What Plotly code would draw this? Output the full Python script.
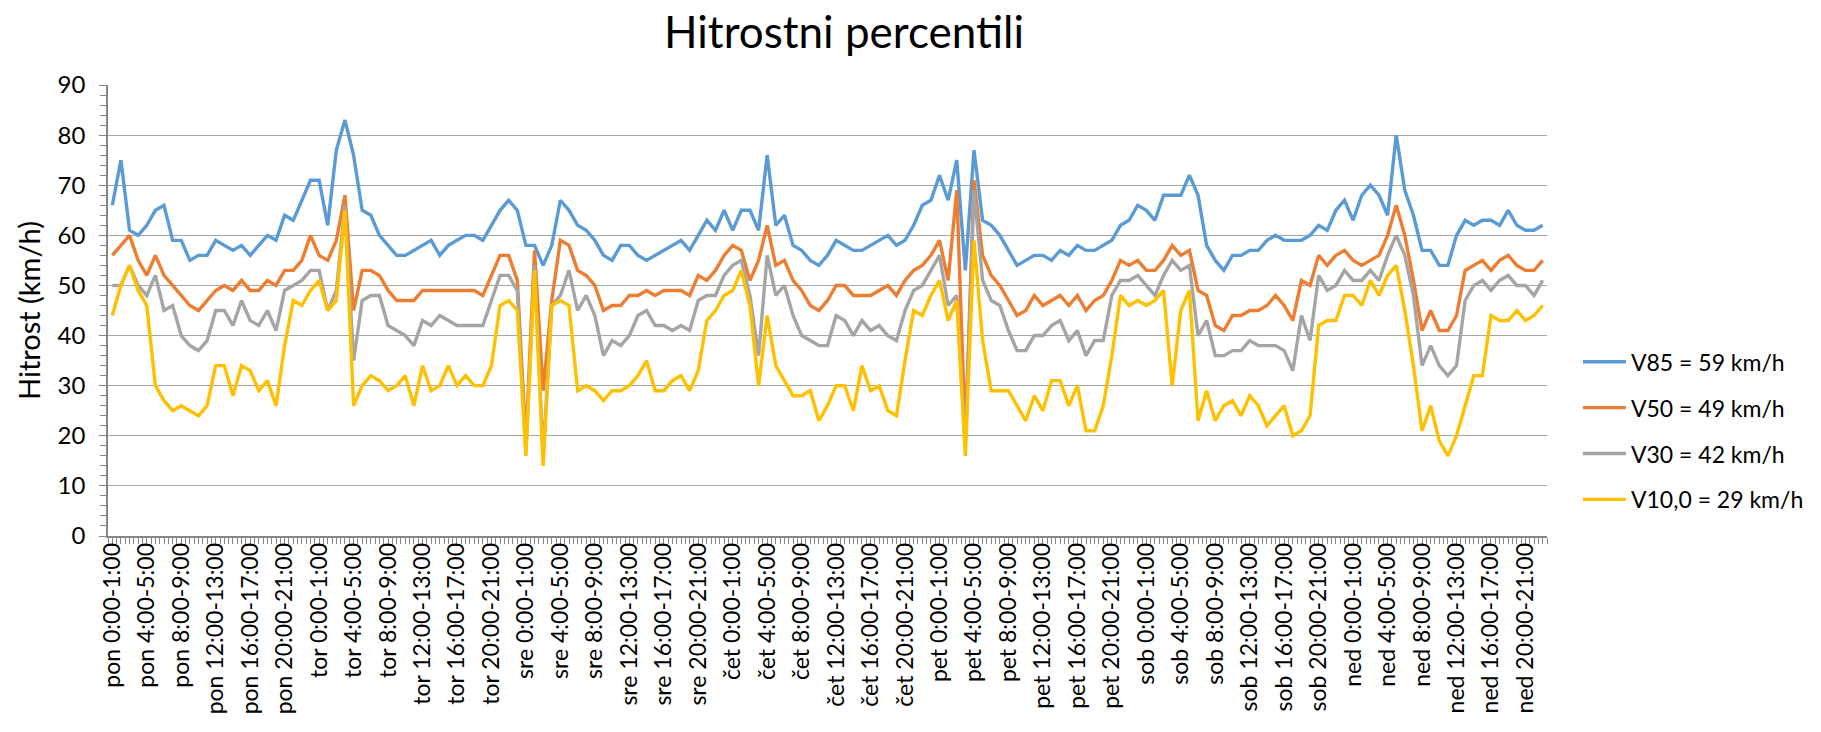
import plotly.graph_objects as go

TITLE = "Hitrostni percentili"
Y_TITLE = "Hitrost (km/h)"
DAYS = ["pon", "tor", "sre", "čet", "pet", "sob", "ned"]
HOUR_SLOTS = [f"{h}:00-{h + 1}:00" for h in range(24)]
CATEGORIES = [f"{d} {s}" for d in DAYS for s in HOUR_SLOTS][:167]
LABEL_STEP = 4

V85 = [66, 75, 61, 60, 62, 65, 66, 59, 59, 55, 56, 56, 59, 58, 57, 58, 56, 58, 60, 59, 64, 63, 67, 71, 71, 62, 77, 83,
       76, 65, 64, 60, 58, 56, 56, 57, 58, 59, 56, 58, 59, 60, 60, 59, 62, 65, 67, 65, 58, 58, 54, 58, 67, 65, 62, 61,
       59, 56, 55, 58, 58, 56, 55, 56, 57, 58, 59, 57, 60, 63, 61, 65, 61, 65, 65, 61, 76, 62, 64, 58, 57, 55, 54, 56,
       59, 58, 57, 57, 58, 59, 60, 58, 59, 62, 66, 67, 72, 67, 75, 53, 77, 63, 62, 60, 57, 54, 55, 56, 56, 55, 57, 56,
       58, 57, 57, 58, 59, 62, 63, 66, 65, 63, 68, 68, 68, 72, 68, 58, 55, 53, 56, 56, 57, 57, 59, 60, 59, 59, 59, 60,
       62, 61, 65, 67, 63, 68, 70, 68, 64, 80, 69, 64, 57, 57, 54, 54, 60, 63, 62, 63, 63, 62, 65, 62, 61, 61, 62]

V50 = [56, 58, 60, 55, 52, 56, 52, 50, 48, 46, 45, 47, 49, 50, 49, 51, 49, 49, 51, 50, 53, 53, 55, 60, 56, 55, 59, 68,
       45, 53, 53, 52, 49, 47, 47, 47, 49, 49, 49, 49, 49, 49, 49, 48, 52, 56, 56, 51, 19, 57, 29, 47, 59, 58, 53, 52,
       50, 45, 46, 46, 48, 48, 49, 48, 49, 49, 49, 48, 52, 51, 53, 56, 58, 57, 51, 55, 62, 54, 55, 51, 49, 46, 45, 47,
       50, 50, 48, 48, 48, 49, 50, 48, 51, 53, 54, 56, 59, 51, 69, 20, 71, 56, 52, 50, 47, 44, 45, 48, 46, 47, 48, 46,
       48, 45, 47, 48, 51, 55, 54, 55, 53, 53, 55, 58, 56, 57, 49, 48, 42, 41, 44, 44, 45, 45, 46, 48, 46, 43, 51, 50,
       56, 54, 56, 57, 55, 54, 55, 56, 60, 66, 60, 51, 41, 45, 41, 41, 44, 53, 54, 55, 53, 55, 56, 54, 53, 53, 55]

V30 = [50, 50, 54, 50, 48, 52, 45, 46, 40, 38, 37, 39, 45, 45, 42, 47, 43, 42, 45, 41, 49, 50, 51, 53, 53, 45, 49, 66,
       35, 47, 48, 48, 42, 41, 40, 38, 43, 42, 44, 43, 42, 42, 42, 42, 47, 52, 52, 49, 17, 54, 16, 46, 48, 53, 45, 48,
       44, 36, 39, 38, 40, 44, 45, 42, 42, 41, 42, 41, 47, 48, 48, 52, 54, 55, 48, 36, 56, 48, 50, 44, 40, 39, 38, 38,
       44, 43, 40, 43, 41, 42, 40, 39, 45, 49, 50, 53, 56, 46, 48, 18, 69, 51, 47, 46, 41, 37, 37, 40, 40, 42, 43, 39,
       41, 36, 39, 39, 48, 51, 51, 52, 50, 48, 52, 55, 53, 54, 40, 43, 36, 36, 37, 37, 39, 38, 38, 38, 37, 33, 44, 39,
       52, 49, 50, 53, 51, 51, 53, 51, 56, 60, 56, 48, 34, 38, 34, 32, 34, 47, 50, 51, 49, 51, 52, 50, 50, 48, 51]

V10 = [44, 50, 54, 49, 46, 30, 27, 25, 26, 25, 24, 26, 34, 34, 28, 34, 33, 29, 31, 26, 38, 47, 46, 49, 51, 45, 47, 65,
       26, 30, 32, 31, 29, 30, 32, 26, 34, 29, 30, 34, 30, 32, 30, 30, 34, 46, 47, 45, 16, 53, 14, 46, 47, 46, 29, 30,
       29, 27, 29, 29, 30, 32, 35, 29, 29, 31, 32, 29, 33, 43, 45, 48, 49, 53, 46, 30, 44, 34, 31, 28, 28, 29, 23, 26,
       30, 30, 25, 34, 29, 30, 25, 24, 35, 45, 44, 48, 51, 43, 47, 16, 59, 39, 29, 29, 29, 26, 23, 28, 25, 31, 31, 26,
       30, 21, 21, 26, 36, 48, 46, 47, 46, 47, 49, 30, 45, 49, 23, 29, 23, 26, 27, 24, 28, 26, 22, 24, 26, 20, 21, 24,
       42, 43, 43, 48, 48, 46, 51, 48, 52, 54, 45, 34, 21, 26, 19, 16, 20, 26, 32, 32, 44, 43, 43, 45, 43, 44, 46]

SERIES = [V85, V50, V30, V10]
SERIES_NAMES = ["V85 = 59 km/h", "V50 = 49 km/h", "V30 = 42 km/h", "V10,0 = 29 km/h"]
COLORS = ["#5B9BD5", "#ED7D31", "#A5A5A5", "#FFC000"]

Y_MIN, Y_MAX, Y_STEP = 0, 90, 10

FONT = "Lato"
positions = list(range(len(CATEGORIES)))

fig = go.Figure()
for name, values, color in zip(SERIES_NAMES, SERIES, COLORS):
    fig.add_trace(go.Scatter(
        x=positions,
        y=values,
        name=name,
        legendgroup=name,
        mode="lines",
        line=dict(color=color, width=3.4),
        customdata=CATEGORIES,
        hovertemplate="%{customdata}: %{y} km/h<extra>" + name + "</extra>",
    ))

tick_vals = positions[::LABEL_STEP]
tick_text = CATEGORIES[::LABEL_STEP]

fig.update_layout(
    width=1821,
    height=732,
    paper_bgcolor="white",
    plot_bgcolor="white",
    margin=dict(l=108, r=272, t=85, b=196),
    font=dict(family=FONT, color="#000000"),
    title=dict(
        text=TITLE,
        font=dict(family=FONT, size=44, color="#000000"),
        x=0.5115, xref="paper", xanchor="center",
        y=0.955, yref="container", yanchor="middle",
    ),
    legend=dict(
        x=1.0215, xanchor="left",
        y=0.434, yanchor="top",
        font=dict(family=FONT, size=23, color="#000000"),
        tracegroupgap=13,
        itemwidth=43,
        borderwidth=0,
        bgcolor="rgba(0,0,0,0)",
    ),
    showlegend=True,
)

fig.update_xaxes(
    automargin=False,
    range=[-0.5, len(CATEGORIES) - 0.5],
    tickmode="array",
    tickvals=tick_vals,
    ticktext=tick_text,
    tickangle=-90,
    tickfont=dict(family=FONT, size=23, color="#000000"),
    ticks="outside",
    ticklen=4,
    ticklabelstandoff=-8,
    tickcolor="#868686",
    showline=True,
    linecolor="#868686",
    linewidth=1.5,
    showgrid=False,
    zeroline=False,
    minor=dict(
        tickmode="linear", tick0=0.5, dtick=0.5,
        ticks="outside", ticklen=6, tickcolor="#868686", showgrid=False,
    ),
)

fig.update_yaxes(
    automargin=False,
    range=[Y_MIN, Y_MAX],
    dtick=Y_STEP,
    tick0=0,
    tickfont=dict(family=FONT, size=24, color="#000000"),
    ticks="outside",
    ticklen=7,
    ticklabelstandoff=9,
    tickcolor="#868686",
    showline=True,
    linecolor="#868686",
    linewidth=1.5,
    showgrid=True,
    gridcolor="#A6A6A6",
    gridwidth=1.4,
    zeroline=False,
    minor=dict(dtick=2, ticks="outside", ticklen=6, tickcolor="#868686", showgrid=False),
    title=dict(text=Y_TITLE, font=dict(family=FONT, size=29, color="#000000"), standoff=8),
)

fig.write_html(
    "out.html",
    config={"displayModeBar": False},
    post_script="document.body.style.margin='0';",
)
